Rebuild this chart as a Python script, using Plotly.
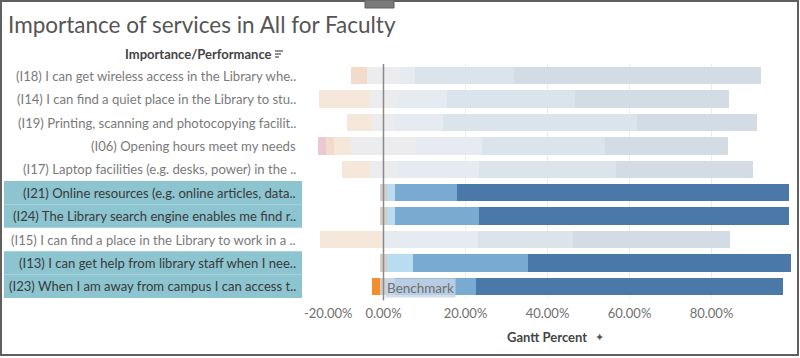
import numpy as np
import plotly.graph_objects as go

# ---------------- data ----------------
labels = [
    "(I18) I can get wireless access in the Library whe..",
    "(I14) I can find a quiet place in the Library to stu..",
    "(I19) Printing, scanning and photocopying facilit..",
    "(I06) Opening hours meet my needs",
    "(I17) Laptop facilities (e.g. desks, power) in the ..",
    "(I21) Online resources (e.g. online articles, data..",
    "(I24) The Library search engine enables me find r..",
    "(I15) I can find a place in the Library to work in a ..",
    "(I13) I can get help from library staff when I nee..",
    "(I23) When I am away from campus I can access t..",
]
highlighted = [0, 0, 0, 0, 0, 1, 1, 0, 1, 1]

strongly_disagree = [0.0, 0.0, 0.0, 1.9, 0.0, 0.0, 0.0, 0.0, 0.0, 0.0]
disagree          = [4.0, 0.0, 0.0, 2.0, 0.0, 0.0, 0.0, 0.0, 0.0, 1.8]
slightly_disagree = [0.0, 12.6, 5.9, 4.2, 6.8, 0.0, 0.0, 15.1, 0.0, 0.0]
neutral           = [8.0, 6.4, 5.8, 15.7, 6.6, 1.8, 1.8, 0.6, 1.8, 1.9]
slightly_agree    = [3.7, 12.4, 11.7, 16.2, 20.1, 2.0, 2.0, 22.7, 6.4, 1.9]
agree             = [24.1, 31.2, 47.2, 29.9, 33.2, 15.0, 20.3, 23.2, 28.0, 19.7]
strongly_agree    = [60.2, 37.5, 29.4, 30.0, 33.4, 81.1, 75.8, 38.3, 64.0, 74.8]

tick_values = [0, 20, 40, 60, 80]
tick_labels = ["0.00%", "20.00%", "40.00%", "60.00%", "80.00%"]
first_tick_label = "-20.00%"

title_text = "Importance of services in All for Faculty"
header_text = "Importance/Performance"
axis_title_text = "Gantt Percent"
benchmark_text = "Benchmark"

# ---------------- styles ----------------
full_colors = ["#d37295", "#f28e2b", "#f8c99b", "#d6cdc8", "#b9dcf0", "#79aad1", "#4a78a8"]
faded_colors = ["#eac9d2", "#f2dbc9", "#f5e8da", "#ecebed", "#e5ebf0", "#dce4eb", "#d3dce5"]
FONT = "Lato"

series = np.array([strongly_disagree, disagree, slightly_disagree, neutral,
                   slightly_agree, agree, strongly_agree])
start = -(series[0] + series[1] + series[2] + series[3] / 2.0)
bases = start + np.vstack([np.zeros(len(labels)), np.cumsum(series, axis=0)[:-1]])

# pixel helpers for decorations
L, R, T, B = 303, 797, 64, 298
W, H = 800, 358
def pxx(x):
    return (x - L) / (R - L)
def pyy(y):
    return (B - y) / (B - T)

fig = go.Figure()
for k in range(series.shape[0]):
    fig.add_trace(go.Bar(
        y=labels, x=series[k], base=bases[k], orientation="h",
        marker=dict(color=[full_colors[k] if h else faded_colors[k] for h in highlighted],
                    line=dict(width=0)),
        width=0.74, showlegend=False, hoverinfo="skip",
    ))

shapes = []
annotations = []

# teal highlight background behind labels
for i, h in enumerate(highlighted):
    if h:
        shapes.append(dict(type="rect", xref="paper", yref="y",
                           x0=pxx(4), x1=pxx(302), y0=i - 0.5, y1=i + 0.5,
                           fillcolor="#8cc4d0", line=dict(width=0), layer="below"))
    annotations.append(dict(
        xref="paper", yref="y", x=pxx(298), y=labels[i], text=labels[i],
        xanchor="right", yanchor="middle", showarrow=False,
        font=dict(family=FONT, size=13.1, color="#3a3a3a" if h else "#7a7a7a")))

# benchmark vertical line at zero
shapes.append(dict(type="line", xref="x", yref="paper", x0=0, x1=0, y0=-0.01, y1=1.0,
                   line=dict(color="#8a8a8a", width=1.5), layer="above"))

# benchmark label
annotations.append(dict(xref="x", yref="y", x=0.4, y=labels[-1], text=benchmark_text,
                        xanchor="left", yanchor="middle", yshift=-2, showarrow=False,
                        bgcolor="rgba(200,214,230,0.8)", borderpad=1,
                        font=dict(family=FONT, size=13.5, color="#6f6f6f")))

# header
annotations.append(dict(xref="paper", yref="paper", x=pxx(198), y=pyy(54), text=header_text,
                        xanchor="center", yanchor="middle", showarrow=False,
                        font=dict(family=FONT, size=13, color="#444444", weight="bold")))
# sort icon
for j, (w_) in enumerate([8, 6, 4]):
    yy = 51 + j * 3
    shapes.append(dict(type="line", xref="paper", yref="paper",
                       x0=pxx(275), x1=pxx(275 + w_), y0=pyy(yy), y1=pyy(yy),
                       line=dict(color="#555555", width=1.3)))

# -20 tick label (kept inside the plot edge as in the original)
annotations.append(dict(xref="paper", yref="paper", x=pxx(302), y=pyy(313), text=first_tick_label,
                        xanchor="left", yanchor="middle", showarrow=False,
                        font=dict(family=FONT, size=13, color="#707070")))

# axis title
annotations.append(dict(xref="paper", yref="paper", x=pxx(547), y=pyy(337), text=axis_title_text,
                        xanchor="center", yanchor="middle", showarrow=False,
                        font=dict(family=FONT, size=13, color="#444444", weight="bold")))
# pin icon (small)
annotations.append(dict(xref="paper", yref="paper", x=pxx(599), y=pyy(337), text="✦",
                        xanchor="center", yanchor="middle", showarrow=False,
                        font=dict(family="DejaVu Sans", size=11, color="#555555")))

# outer border
shapes.append(dict(type="rect", xref="paper", yref="paper",
                   x0=pxx(1), x1=pxx(798), y0=pyy(1), y1=pyy(355),
                   line=dict(color="#606060", width=2), fillcolor="rgba(0,0,0,0)"))
# drag handle at top
shapes.append(dict(type="rect", xref="paper", yref="paper",
                   x0=pxx(365), x1=pxx(394), y0=pyy(0), y1=pyy(8),
                   line=dict(color="#606060", width=1), fillcolor="#7a7a7a"))

fig.update_layout(
    width=W, height=H,
    margin=dict(l=L, r=W - R, t=T, b=H - B),
    paper_bgcolor="white", plot_bgcolor="white",
    barmode="overlay", bargap=0,
    title=dict(text=title_text, x=8 / W, xanchor="left", y=1 - 25 / H, yanchor="middle",
               font=dict(family=FONT, size=22.5, color="#555555")),
    xaxis=dict(range=[-19.63, 100.85], tickvals=tick_values, ticktext=tick_labels,
               showgrid=True, gridcolor="#ececec", gridwidth=1, zeroline=False,
               showline=False, ticks="", ticklabelstandoff=6,
               tickfont=dict(family=FONT, size=13, color="#707070"), fixedrange=True),
    yaxis=dict(categoryorder="array", categoryarray=labels, range=[9.5, -0.5],
               showticklabels=False, showgrid=False, zeroline=False, ticks="",
               fixedrange=True),
    shapes=shapes, annotations=annotations,
)

fig.write_html("out.html", config={"displayModeBar": False},
               post_script="document.body.style.margin='0';document.body.style.overflow='hidden';")
